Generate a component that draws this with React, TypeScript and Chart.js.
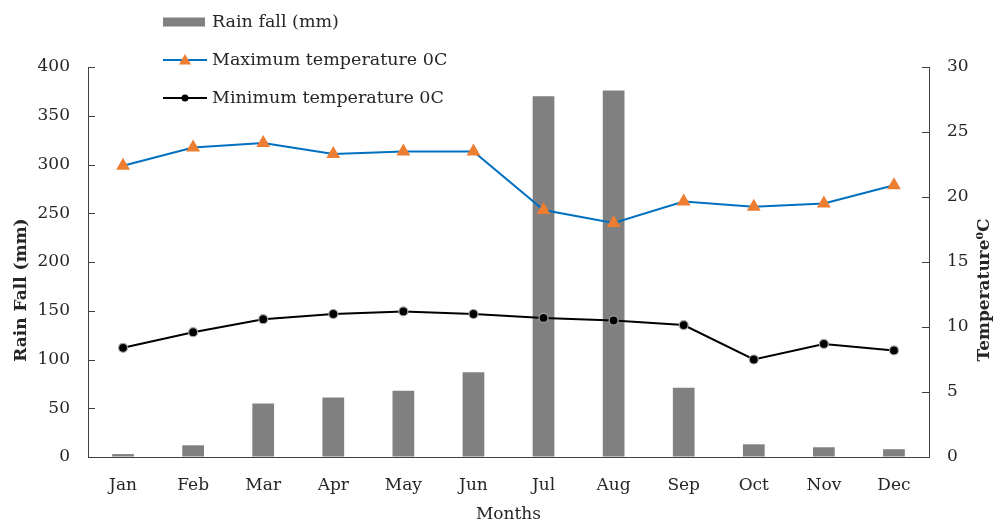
import React, { useEffect, useRef } from "react";
import { Chart, registerables } from "chart.js";

Chart.register(...registerables);

const months = ["Jan", "Feb", "Mar", "Apr", "May", "Jun", "Jul", "Aug", "Sep", "Oct", "Nov", "Dec"];
const rainfall = [3, 12, 55, 61, 68, 87, 370, 376, 71, 13, 10, 8];
const maxTemp = [22.4, 23.8, 24.15, 23.3, 23.5, 23.5, 19.0, 18.0, 19.65, 19.25, 19.5, 20.9];
const minTemp = [8.4, 9.6, 10.6, 11.0, 11.2, 11.0, 10.7, 10.5, 10.15, 7.5, 8.7, 8.2];

const rainLabel = "Rain fall (mm)";
const maxLabel = "Maximum temperature 0C";
const minLabel = "Minimum temperature 0C";
const leftTitle = "Rain Fall (mm)";
const rightTitle = "Temperature\u2070C";
const xTitle = "Months";

const FONT = '"DejaVu Serif", serif';
const AXIS_COLOR = "#404040";
const TEXT_COLOR = "#262626";

const BAR_COLOR = "#808080";
const MAX_LINE = "#0070C0";
const MAX_MARK = "#ED7D31";
const MIN_LINE = "#000000";

function drawTriangle(ctx: CanvasRenderingContext2D, x: number, y: number, r: number, color: string) {
  ctx.beginPath();
  ctx.moveTo(x, y - r);
  ctx.lineTo(x + r * Math.sin(Math.PI / 3), y + r * 0.5);
  ctx.lineTo(x - r * Math.sin(Math.PI / 3), y + r * 0.5);
  ctx.closePath();
  ctx.fillStyle = color;
  ctx.fill();
}

const overlayPlugin = {
  id: "overlay",
  afterDraw(chart: any) {
    const ctx: CanvasRenderingContext2D = chart.ctx;
    const ds = chart.data.datasets;
    const area = chart.chartArea;
    ctx.save();

    ctx.strokeStyle = AXIS_COLOR;
    ctx.lineWidth = 1;
    const yl = chart.scales.y;
    yl.ticks.forEach((t: any) => {
      const p = Math.round(yl.getPixelForValue(t.value)) + 0.5;
      ctx.beginPath();
      ctx.moveTo(area.left, p);
      ctx.lineTo(area.left + 7, p);
      ctx.stroke();
    });
    const yr = chart.scales.y1;
    yr.ticks.forEach((t: any) => {
      const p = Math.round(yr.getPixelForValue(t.value)) + 0.5;
      ctx.beginPath();
      ctx.moveTo(area.right, p);
      ctx.lineTo(area.right - 7, p);
      ctx.stroke();
    });

    const midY = 290;
    ctx.fillStyle = TEXT_COLOR;
    ctx.textAlign = "center";
    ctx.textBaseline = "middle";
    ctx.font = "bold 17px " + FONT;
    ctx.save();
    ctx.translate(22, midY);
    ctx.rotate(-Math.PI / 2);
    ctx.fillText(leftTitle, 0, 0);
    ctx.restore();
    ctx.save();
    ctx.translate(985, midY);
    ctx.rotate(-Math.PI / 2);
    ctx.fillText(rightTitle, 0, 0);
    ctx.restore();
    ctx.font = "17px " + FONT;
    ctx.fillText(xTitle, (area.left + area.right) / 2, 515);

    const x0 = 163;
    const x1 = 207;
    const rows = [22, 60, 98];
    ctx.font = "17.5px " + FONT;
    ctx.textAlign = "left";
    ds.forEach((d: any, i: number) => {
      const y = rows[i];
      if (d.type === "bar") {
        ctx.fillStyle = d.backgroundColor;
        ctx.fillRect(x0, y - 4.5, x1 - x0 - 2, 9);
      } else {
        ctx.strokeStyle = d.borderColor;
        ctx.lineWidth = 2;
        ctx.beginPath();
        ctx.moveTo(x0, y);
        ctx.lineTo(x1, y);
        ctx.stroke();
        const cx = (x0 + x1) / 2;
        if (d.pointStyle === "triangle") {
          drawTriangle(ctx, cx, y + 1, 7, d.pointBackgroundColor);
        } else {
          ctx.beginPath();
          ctx.arc(cx, y, 3.5, 0, Math.PI * 2);
          ctx.fillStyle = d.pointBackgroundColor;
          ctx.fill();
        }
      }
      ctx.fillStyle = TEXT_COLOR;
      ctx.fillText(d.label, 212, y);
    });

    ctx.restore();
  },
};

export default function App() {
  const ref = useRef<HTMLCanvasElement | null>(null);

  useEffect(() => {
    if (!ref.current) return;
    const chart = new Chart(ref.current, {
      data: {
        labels: months,
        datasets: [
          {
            type: "bar",
            label: rainLabel,
            data: rainfall,
            backgroundColor: BAR_COLOR,
            borderWidth: 0,
            barPercentage: 0.31,
            categoryPercentage: 1,
            yAxisID: "y",
            order: 3,
          } as any,
          {
            type: "line",
            label: maxLabel,
            data: maxTemp,
            borderColor: MAX_LINE,
            borderWidth: 2,
            pointStyle: "triangle",
            pointRadius: 8,
            pointBackgroundColor: MAX_MARK,
            pointBorderColor: MAX_MARK,
            pointBorderWidth: 0,
            tension: 0,
            yAxisID: "y1",
            order: 1,
          } as any,
          {
            type: "line",
            label: minLabel,
            data: minTemp,
            borderColor: MIN_LINE,
            borderWidth: 2,
            pointStyle: "circle",
            pointRadius: 4.5,
            pointBackgroundColor: "#000000",
            pointBorderColor: "#a6a6a6",
            pointBorderWidth: 1.2,
            tension: 0,
            yAxisID: "y1",
            order: 0,
          } as any,
        ],
      },
      options: {
        responsive: false,
        animation: false,
        layout: { padding: { top: 67 } },
        plugins: {
          legend: { display: false },
          tooltip: { enabled: false },
          title: { display: false },
        },
        scales: {
          x: {
            offset: true,
            grid: { display: true, drawOnChartArea: false, drawTicks: false },
            border: { display: true, color: AXIS_COLOR, width: 1 },
            ticks: { color: TEXT_COLOR, font: { family: FONT, size: 17 }, padding: 18 },
            afterFit: (s: any) => {
              s.height = 68;
            },
          },
          y: {
            position: "left",
            min: 0,
            max: 400,
            grid: { display: true, drawOnChartArea: false, drawTicks: false },
            border: { display: true, color: AXIS_COLOR, width: 1 },
            ticks: { stepSize: 50, color: TEXT_COLOR, font: { family: FONT, size: 17 }, padding: 18 },
            afterFit: (s: any) => {
              s.width = 88;
            },
          },
          y1: {
            position: "right",
            min: 0,
            max: 30,
            grid: { display: true, drawOnChartArea: false, drawTicks: false },
            border: { display: true, color: AXIS_COLOR, width: 1 },
            ticks: { stepSize: 5, color: TEXT_COLOR, font: { family: FONT, size: 17 }, padding: 18 },
            afterFit: (s: any) => {
              s.width = 68;
            },
          },
        },
      } as any,
      plugins: [overlayPlugin],
    });
    return () => chart.destroy();
  }, []);

  return (
    <div style={{ position: "fixed", left: 0, top: 0, width: 997, height: 525, background: "#fff" }}>
      <canvas ref={ref} width={997} height={525} style={{ display: "block" }} />
    </div>
  );
}
